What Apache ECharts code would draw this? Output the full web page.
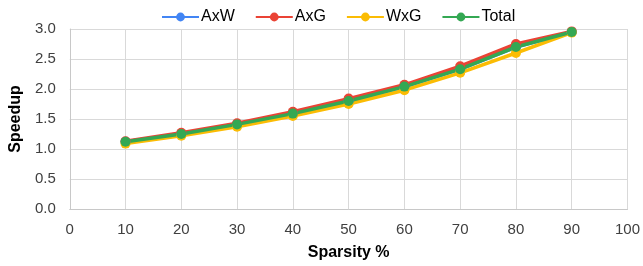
<!DOCTYPE html>
<html>
<head>
<meta charset="utf-8">
<script src="https://cdn.jsdelivr.net/npm/echarts@6/dist/echarts.min.js"></script>
<style>
  html, body { margin: 0; padding: 0; background: #fff; }
  #chart { width: 643px; height: 266px; }
</style>
</head>
<body>
<div id="chart"></div>
<script>
// data
const sparsity = [10, 20, 30, 40, 50, 60, 70, 80, 90];
const axw   = [1.12, 1.25, 1.41, 1.59, 1.80, 2.04, 2.33, 2.70, 2.95];
const axg   = [1.13, 1.27, 1.43, 1.62, 1.84, 2.07, 2.38, 2.75, 2.96];
const wxg   = [1.09, 1.22, 1.37, 1.55, 1.75, 1.98, 2.27, 2.60, 2.94];
const total = [1.12, 1.25, 1.41, 1.59, 1.80, 2.04, 2.33, 2.70, 2.95];

const names  = ['AxW', 'AxG', 'WxG', 'Total'];
const colors = ['#4285F4', '#EA4335', '#FBBC04', '#34A853'];
const values = [axw, axg, wxg, total];

const chart = echarts.init(document.getElementById('chart'), null, { renderer: 'canvas' });

const font = 'Liberation Sans, Arial, sans-serif';

chart.setOption({
    animation: false,
    color: colors,
    textStyle: { fontFamily: font },
    legend: {
        top: 4,
        left: 156,
        itemWidth: 37,
        itemHeight: 11,
        itemGap: 20,
        textStyle: { fontSize: 16, color: '#000', fontFamily: font, padding: [0, 0, 0, -3] },
        data: names
    },
    grid: { left: 69, right: 11, top: 29, bottom: 57 },
    xAxis: {
        type: 'value',
        min: 0, max: 100, interval: 10,
        name: 'Sparsity %',
        nameLocation: 'middle',
        nameGap: 36,
        nameTextStyle: { fontSize: 16, fontWeight: 'bold', color: '#000', fontFamily: font },
        axisLine: { lineStyle: { color: '#c8c8c8', width: 1 } },
        axisTick: { show: false },
        axisLabel: { fontSize: 15, color: '#404040', margin: 13, fontFamily: font },
        splitLine: { show: true, lineStyle: { color: '#d9d9d9' } }
    },
    yAxis: {
        type: 'value',
        min: 0, max: 3, interval: 0.5,
        name: 'Speedup',
        nameLocation: 'middle',
        nameGap: 42,
        nameTextStyle: { fontSize: 16, fontWeight: 'bold', color: '#000', fontFamily: font },
        axisLine: { show: true, lineStyle: { color: '#c8c8c8' } },
        axisTick: { show: false },
        axisLabel: { fontSize: 15, color: '#404040', margin: 14, fontFamily: font,
            formatter: v => v.toFixed(1) },
        splitLine: { lineStyle: { color: '#d9d9d9' } }
    },
    series: names.map((n, i) => ({
        name: n,
        type: 'line',
        data: sparsity.map((x, j) => [x, values[i][j]]),
        symbol: 'circle',
        symbolSize: 10,
        lineStyle: { width: 3.5, color: colors[i] },
        itemStyle: { color: colors[i] }
    }))
});
</script>
</body>
</html>
